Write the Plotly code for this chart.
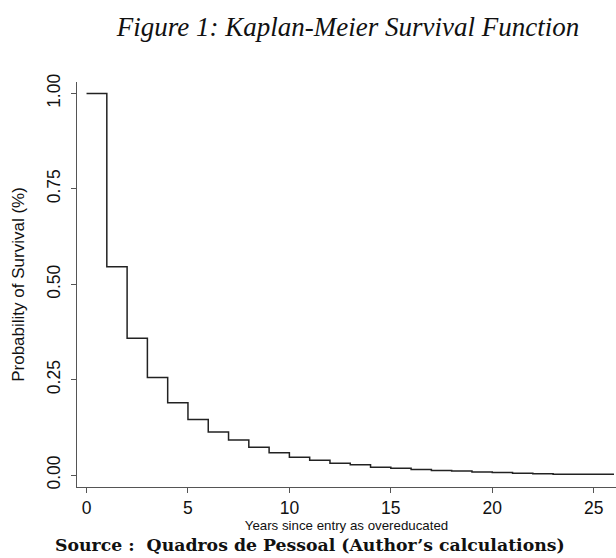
import plotly.graph_objects as go

years = list(range(0, 27))
survival = [1.0, 0.546, 0.359, 0.256, 0.190, 0.146, 0.113, 0.092, 0.073, 0.059,
            0.047, 0.039, 0.031, 0.027, 0.021, 0.018, 0.015, 0.012, 0.011, 0.008,
            0.007, 0.005, 0.0035, 0.0026, 0.0026, 0.0026, 0.0026]
x_ticks = [0, 5, 10, 15, 20, 25]
y_ticks = [0.0, 0.25, 0.5, 0.75, 1.0]
y_tick_labels = ["0.00", "0.25", "0.50", "0.75", "1.00"]

fig = go.Figure()
fig.add_trace(go.Scatter(x=years, y=survival, mode="lines", line_shape="hv",
                         line=dict(color="#222222", width=1.5), showlegend=False))

axis_font = dict(family="Liberation Sans, Arial, sans-serif", size=17.5, color="#111111")
fig.update_layout(
    width=616, height=558,
    margin=dict(l=77, r=0, t=82, b=71),
    paper_bgcolor="white", plot_bgcolor="white",
    title=dict(text="<i>Figure 1: Kaplan-Meier Survival Function</i>",
               font=dict(family="Liberation Serif, Times New Roman, serif", size=27, color="#111111"),
               x=0.565, xanchor="center", y=0.952, yanchor="middle", xref="container", yref="container"),
    xaxis=dict(range=[-0.47, 26.1], tickvals=x_ticks, ticks="outside", ticklen=5,
               tickcolor="#555555", showline=True, linecolor="#555555", linewidth=1.3,
               showgrid=False, zeroline=False, tickfont=axis_font,
               title=dict(text="Years since entry as overeducated",
                          font=dict(family="Liberation Sans, Arial, sans-serif", size=13.3, color="#111111"),
                          standoff=0)),
    yaxis=dict(range=[-0.031, 1.03], tickvals=y_ticks, ticktext=y_tick_labels,
               ticks="outside", ticklen=5, tickcolor="#555555", tickangle=-90,
               ticklabelstandoff=4,
               showline=True, linecolor="#555555", linewidth=1.3,
               showgrid=False, zeroline=False, tickfont=axis_font,
               title=dict(text="Probability of Survival (%)",
                          font=dict(family="Liberation Sans, Arial, sans-serif", size=17, color="#111111"),
                          standoff=14)),
)
fig.add_annotation(text="<b>Source :  Quadros de Pessoal (Author’s calculations)</b>",
                   xref="paper", yref="paper", x=(310 - 77) / 539, y=-(545 - 486.7) / 404.7,
                   xanchor="center", yanchor="middle", showarrow=False,
                   font=dict(family="DejaVu Serif, Liberation Serif, serif", size=17.3, color="#111111"))

fig.write_html("out.html", config={"displayModeBar": False},
               post_script="document.body.style.margin='0';")
